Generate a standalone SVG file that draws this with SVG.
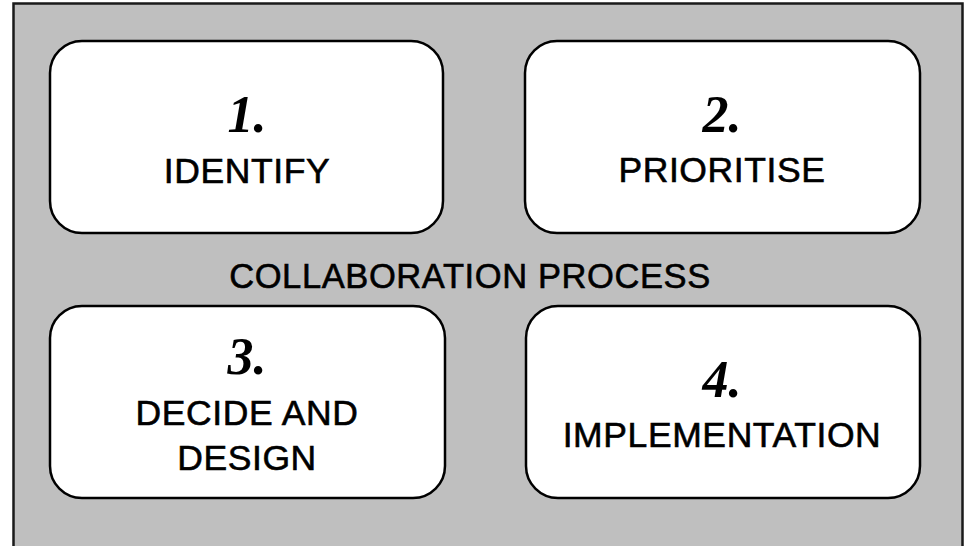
<svg xmlns="http://www.w3.org/2000/svg" width="969" height="546" viewBox="0 0 969 546">
  <style>
    .frame { fill: #bfbfbf; stroke: #1a1a1a; stroke-width: 2.5; }
    .step { fill: #ffffff; stroke: #000000; stroke-width: 2.5; }
    .num { font-family: "Liberation Serif", "DejaVu Serif", serif; font-style: italic; font-weight: bold; font-size: 52px; fill: #000; text-anchor: middle; }
    .label { font-family: "Liberation Sans", "DejaVu Sans", sans-serif; font-size: 35.5px; letter-spacing: 0.6px; fill: #000; stroke: #000; stroke-width: 0.6; text-anchor: middle; }
    .title { font-size: 34.5px; }
  </style>

  <!-- background panel, open at the bottom edge -->
  <rect class="frame" x="13.5" y="3.5" width="949" height="560"/>

  <g id="title">
    <text class="label title" x="470" y="288">COLLABORATION PROCESS</text>
  </g>

  <g id="step1">
    <rect class="step" x="50" y="41" width="393" height="192" rx="32"/>
    <text class="num" x="247" y="132">1.</text>
    <text class="label" x="247" y="183">IDENTIFY</text>
  </g>

  <g id="step2">
    <rect class="step" x="525" y="41" width="395" height="192" rx="32"/>
    <text class="num" x="722" y="132">2.</text>
    <text class="label" x="722" y="182">PRIORITISE</text>
  </g>

  <g id="step3">
    <rect class="step" x="50" y="306" width="395" height="192" rx="32"/>
    <text class="num" x="247" y="374">3.</text>
    <text class="label" x="247" y="425">DECIDE AND</text>
    <text class="label" x="247" y="470">DESIGN</text>
  </g>

  <g id="step4">
    <rect class="step" x="526" y="306" width="394" height="192" rx="32"/>
    <text class="num" x="722" y="397">4.</text>
    <text class="label" x="722" y="447">IMPLEMENTATION</text>
  </g>

  <g id="connectors"/>
</svg>
